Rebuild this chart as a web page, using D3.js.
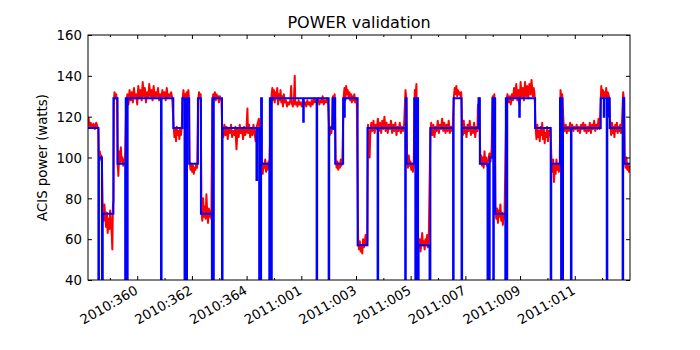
<!DOCTYPE html>
<html>
<head>
<meta charset="utf-8">
<script src="https://cdnjs.cloudflare.com/ajax/libs/d3/7.8.5/d3.min.js"></script>
<style>
body { margin: 0; background: #fff; }
text { font-family: "DejaVu Sans", sans-serif; fill: #000; }
</style>
</head>
<body>
<div id="chart"></div>
<script>
////////////////////////////////////////////////////////////////////////////////////////
// Canvas size and plot box
var svgWidth = 700;
var svgHeight = 350;

var margin = {
    top: 35,
    right: 70,
    bottom: 70,
    left: 88
};

var width = svgWidth - margin.left - margin.right;
var height = svgHeight - margin.top - margin.bottom;

////////////////////////////////////////////////////////////////////////////////////////
// Data (x = day of year, 2011 days continue after 365)
var xDomain = [358.2, 378.02];
var yDomain = [40, 160];
var majorDays = [360, 362, 364, 366, 368, 370, 372, 374, 376];
var minorDays = [359, 361, 363, 365, 367, 369, 371, 373, 375, 377];
var powerTicks = [40, 60, 80, 100, 120, 140, 160];

// measured ACIS power (red)
var telemetry = [
    [358.20,118],[358.22,119.5],[358.25,115],[358.30,117],[358.35,114.5],[358.40,116.5],[358.45,114],[358.50,117],[358.55,115],[358.58,114],
    [358.60,101],[358.63,103],[358.66,99],[358.69,101],[358.71,97],
    [358.74,74],[358.77,69],[358.80,77],[358.83,71],[358.86,66],[358.89,73],[358.92,63],[358.95,70],[358.98,65],[359.01,74],[359.04,68],[359.07,62],[359.09,55],[359.11,76],[359.13,79],
    [359.15,128],[359.17,132],[359.20,129],[359.23,131],[359.26,128],
    [359.29,96],[359.31,91],[359.34,103],[359.37,97],[359.40,105],[359.43,98],[359.46,100],[359.49,96],[359.52,99],[359.55,97],
    [359.60,127],[359.64,131],[359.68,126],[359.72,133],[359.76,128],[359.80,132],[359.84,127],[359.88,134],[359.92,129],[359.96,131],
    [360.00,126],[360.04,135],[360.08,129],[360.12,133],[360.16,128],[360.20,137],[360.24,130],[360.28,134],[360.32,127],[360.36,132],
    [360.40,129],[360.44,136],[360.48,130],[360.52,133],[360.56,128],[360.60,135],[360.64,129],[360.68,132],[360.72,130],[360.76,134],
    [360.80,128],[360.84,131],[360.88,129],[360.92,133],[360.96,130],[361.00,132],[361.04,128],[361.08,134],[361.12,129],[361.16,131],
    [361.20,130],[361.24,132],[361.28,129],
    [361.33,116],[361.36,110],[361.39,114],[361.42,108],[361.45,115],[361.48,111],[361.51,113],[361.54,109],[361.57,114],[361.60,111],[361.63,115],
    [361.66,128],[361.69,133],[361.72,129],[361.75,131],[361.78,127],[361.81,132],[361.84,128],[361.87,133],[361.89,129],
    [361.92,98],[361.95,94],[361.98,97],[362.01,93],[362.04,96],[362.07,92],[362.10,95],[362.13,94],[362.16,97],[362.19,95],
    [362.23,128],[362.26,132],[362.29,129],[362.32,131],
    [362.35,74],[362.38,69],[362.41,80],[362.44,71],[362.47,76],[362.50,70],[362.53,82],[362.56,73],[362.59,68],[362.62,75],[362.65,71],[362.68,74],[362.71,70],
    [362.75,127],[362.78,131],[362.81,129],[362.84,132],[362.87,128],[362.90,131],[362.93,129],[362.96,130],[362.99,127],[363.02,130],[363.05,129],[363.08,128],
    [363.11,114],[363.15,110],[363.19,116],[363.23,111],[363.27,115],[363.31,109],[363.35,114],[363.39,112],[363.43,116],[363.47,110],
    [363.51,113],[363.55,111],[363.59,115],[363.63,104],[363.67,114],[363.71,110],[363.75,116],[363.79,112],[363.83,114],[363.87,109],
    [363.91,115],[363.95,111],[363.99,113],[364.03,124],[364.05,112],[364.09,116],[364.13,110],[364.17,114],[364.21,111],[364.25,116],
    [364.29,112],[364.33,108],[364.37,115],[364.41,117],[364.45,119],
    [364.50,100],[364.53,94],[364.56,98],[364.59,92],[364.62,97],[364.65,95],[364.68,99],[364.71,93],[364.74,97],[364.77,94],[364.80,98],[364.83,96],
    [364.91,130],[364.94,134],[364.97,128],[365.00,133],[365.03,127],[365.06,132],[365.09,129],[365.12,134],[365.15,126],[365.18,131],
    [365.21,128],[365.24,133],[365.27,127],[365.30,130],[365.33,125],[365.36,131],[365.40,127],[365.44,128],[365.48,125],[365.52,127],
    [365.56,126],[365.60,128],[365.63,135],[365.65,127],[365.69,125],[365.73,128],[365.76,140],[365.78,126],[365.82,127],[365.86,125],
    [365.90,128],[365.94,126],[365.98,127],[366.02,125],[366.06,128],[366.10,126],[366.14,127],[366.18,125],[366.22,128],[366.26,126],
    [366.30,127],[366.34,125],[366.38,128],[366.42,126],[366.46,129],[366.50,127],[366.54,128],
    [366.58,127],[366.62,129],[366.66,126],[366.70,128],[366.74,127],[366.78,130],[366.82,126],[366.86,128],[366.90,127],[366.94,129],[366.98,126],
    [367.01,117],[367.04,111],[367.07,115],[367.10,112],[367.13,116],
    [367.16,130],[367.19,127],[367.22,131],
    [367.26,99],[367.29,95],[367.32,98],[367.35,94],[367.38,97],[367.41,95],[367.44,99],[367.47,96],[367.50,98],
    [367.55,130],[367.58,134],[367.61,128],[367.64,135],[367.67,131],[367.70,133],[367.73,129],[367.76,132],[367.79,128],[367.82,131],
    [367.85,127],[367.88,130],[367.91,128],[367.94,131],[367.97,127],[368.00,129],[368.03,126],
    [368.08,58],[368.11,55],[368.14,59],[368.17,54],[368.20,57],[368.23,53],[368.26,60],[368.29,56],[368.32,58],[368.35,62],[368.38,57],[368.41,59],
    [368.44,116],[368.47,112],[368.50,100],[368.52,111],[368.56,117],[368.60,113],[368.64,118],[368.68,112],[368.72,116],[368.76,114],
    [368.80,119],[368.84,113],[368.88,117],[368.92,112],[368.96,118],[369.00,114],[369.04,120],[369.08,113],[369.12,117],[369.16,112],
    [369.20,116],[369.24,114],[369.28,118],[369.32,112],[369.36,116],[369.40,113],[369.44,117],[369.48,111],[369.52,115],[369.56,113],
    [369.60,117],[369.64,112],[369.68,115],[369.72,113],[369.76,116],
    [369.81,133],[369.84,129],
    [369.87,99],[369.90,95],[369.93,101],[369.96,96],[369.99,98],[370.02,94],[370.05,97],[370.08,93],[370.11,96],
    [370.15,133],[370.18,130],[370.21,136],
    [370.27,61],[370.30,56],[370.33,60],[370.36,54],[370.39,58],[370.42,63],[370.45,57],[370.48,59],[370.51,55],[370.54,60],
    [370.57,57],[370.60,62],[370.63,56],[370.66,59],
    [370.72,112],[370.75,117],[370.79,111],[370.83,116],[370.87,110],[370.91,115],[370.95,113],[370.99,118],[371.03,112],[371.07,116],
    [371.11,114],[371.15,119],[371.19,113],[371.23,117],[371.27,112],[371.31,116],[371.35,113],[371.39,118],[371.43,112],[371.47,115],
    [371.51,113],[371.54,116],
    [371.58,130],[371.61,134],[371.64,131],[371.67,135],[371.70,130],[371.73,133],[371.76,131],[371.79,132],[371.82,130],[371.85,132],
    [371.88,116],[371.91,111],[371.94,118],[371.97,112],[372.00,115],[372.04,110],[372.08,116],[372.12,113],[372.16,118],[372.20,111],
    [372.24,115],[372.28,112],[372.32,117],[372.36,110],[372.40,115],[372.44,113],[372.46,126],[372.47,118],
    [372.50,129],
    [372.55,97],[372.58,101],[372.61,96],[372.64,100],[372.67,95],[372.70,103],[372.73,97],[372.76,100],[372.79,96],
    [372.84,99],[372.88,102],[372.92,98],[372.96,104],[373.00,130],[373.03,128],[373.06,131],
    [373.10,76],[373.13,70],[373.16,75],[373.19,68],[373.22,74],[373.25,71],[373.28,77],[373.31,69],[373.34,73],[373.37,67],[373.40,72],[373.43,70],
    [373.50,128],[373.54,131],[373.58,127],[373.62,130],[373.66,126],[373.70,131],[373.74,128],[373.78,134],[373.82,129],[373.86,136],
    [373.90,128],[373.94,133],[373.98,126],[374.02,137],[374.06,130],[374.10,134],[374.14,128],[374.18,137],[374.22,130],[374.26,135],
    [374.30,129],[374.34,136],[374.38,131],[374.42,138],[374.46,130],[374.50,134],[374.53,131],
    [374.57,114],[374.60,109],[374.63,116],[374.66,110],[374.69,113],[374.72,108],[374.75,115],[374.78,111],[374.81,117],[374.84,109],
    [374.87,114],[374.90,107],[374.93,112],[374.96,110],[374.99,115],[375.02,108],[375.05,113],[375.08,111],[375.11,114],
    [375.15,98],[375.18,93],[375.21,99],[375.24,88],[375.27,96],[375.30,92],[375.33,99],[375.36,94],[375.39,97],[375.42,93],[375.45,96],
    [375.48,133],[375.51,128],[375.54,131],
    [375.59,117],[375.63,113],[375.67,116],[375.71,112],[375.75,115],[375.79,113],[375.83,117],[375.87,114],[375.91,116],[375.95,113],
    [375.99,115],[376.03,114],[376.07,116],[376.11,113],[376.15,115],[376.19,112],[376.23,116],[376.27,114],[376.31,117],[376.35,113],
    [376.39,116],[376.43,112],[376.47,115],[376.51,113],[376.55,117],[376.59,112],[376.63,116],[376.67,114],[376.71,118],[376.75,113],
    [376.79,116],[376.83,114],[376.87,119],[376.91,114],
    [376.97,135],[377.00,130],[377.03,133],[377.06,129],[377.09,132],[377.12,130],[377.15,134],[377.18,129],[377.21,132],[377.25,130],
    [377.30,116],[377.33,111],[377.36,117],[377.39,112],[377.42,115],[377.45,110],[377.48,116],[377.51,113],[377.54,117],[377.57,112],
    [377.60,115],[377.63,113],[377.66,116],[377.69,112],[377.72,115],
    [377.77,132],[377.80,128],
    [377.83,99],[377.86,95],[377.89,100],[377.92,94],[377.95,97],[377.98,93],[378.01,96]
];

// model prediction (blue), stepwise; 0 = off the bottom of the plot
var model = [
    [358.20,114.5],
    [358.58,0],[358.60,100],
    [358.71,0],[358.74,72.5],
    [359.13,129],
    [359.28,97],
    [359.56,0],[359.58,129],[359.62,0],[359.65,129],
    [360.87,0],[360.89,129],
    [361.32,114.5],
    [361.65,129],[361.73,0],[361.75,129],[361.80,0],[361.82,129],
    [361.90,97],
    [362.22,129],
    [362.33,72.5],
    [362.73,0],[362.75,129],[362.78,0],[362.80,129],
    [363.10,0],[363.12,114.5],
    [364.36,89],[364.38,114.5],
    [364.46,0],[364.48,114.5],[364.51,0],[364.53,129],
    [364.56,97],
    [364.83,0],[364.85,129],[364.90,0],[364.92,129],
    [366.07,117.5],[366.09,129],
    [366.56,0],[366.58,129],
    [367.00,0],[367.02,114.5],
    [367.14,129],[367.17,114],[367.19,129],
    [367.24,97],
    [367.53,129],[367.57,120],[367.59,129],
    [368.06,57],
    [368.42,114.5],
    [368.79,0],[368.81,114.5],
    [369.80,0],[369.82,129],[369.85,97],
    [370.13,129],[370.17,0],[370.19,129],[370.22,0],[370.24,129],[370.27,0],[370.29,57],
    [370.69,0],[370.72,114.5],
    [371.55,0],[371.57,129],
    [371.86,0],[371.88,114.5],
    [372.48,129],
    [372.53,97],
    [372.81,0],[372.83,97],[372.87,0],[372.89,100],
    [372.99,129],[373.02,0],[373.04,129],
    [373.09,72.5],
    [373.46,0],[373.48,129],[373.51,0],[373.53,129],
    [373.97,120],[373.99,129],
    [374.55,114.5],
    [375.12,0],[375.14,97],
    [375.46,129],[375.50,0],[375.52,129],[375.55,0],[375.57,114.5],
    [375.86,0],[375.88,114.5],
    [376.95,129],
    [377.06,120],[377.08,129],
    [377.17,0],[377.19,129],
    [377.23,120],[377.25,129],
    [377.28,114.5],
    [377.75,0],[377.77,129],
    [377.81,97],
    [378.02,97]
];

////////////////////////////////////////////////////////////////////////////////////////
// Canvas
var svg = d3.select("#chart").append("svg").attr("width", svgWidth).attr("height", svgHeight);

var chartGroup = svg.append("g").attr("transform", `translate(${margin.left}, ${margin.top})`);

// Scales
var x = d3.scaleLinear().domain(xDomain).range([0, width]);
var y = d3.scaleLinear().domain(yDomain).range([height, 0]);

// day number -> "YYYY:DDD"
function dayLabel(d) {
    if (d <= 365) return "2010:" + d;
    return "2011:" + String(d - 365).padStart(3, "0");
}

chartGroup.append("clipPath").attr("id", "plotClip")
    .append("rect").attr("width", width).attr("height", height);

////////////////////////////////////////////////////////////////////////////////////////
// Lines
var redLine = d3.line()
    .x(function(d){ return x(d[0]); })
    .y(function(d){ return y(d[1]); });

var blueLine = d3.line()
    .curve(d3.curveStepAfter)
    .x(function(d){ return x(d[0]); })
    .y(function(d){ return y(d[1]); });

var lines = chartGroup.append("g").attr("clip-path", "url(#plotClip)");

lines.append("path")
    .datum(telemetry)
    .attr("fill", "none")
    .attr("stroke", "#ff0000")
    .attr("stroke-width", 2)
    .attr("stroke-linejoin", "round")
    .attr("d", redLine);

lines.append("path")
    .datum(model)
    .attr("fill", "none")
    .attr("stroke", "#0000ff")
    .attr("stroke-width", 2)
    .attr("d", blueLine);

////////////////////////////////////////////////////////////////////////////////////////
// Axes (ticks point inward on all four sides)
var xAxis = chartGroup.append("g").attr("transform", "translate(0," + height + ")")
    .call(d3.axisBottom(x).tickValues(majorDays).tickSize(-4).tickSizeOuter(0).tickFormat(dayLabel));
chartGroup.append("g").attr("transform", "translate(0," + height + ")")
    .call(d3.axisBottom(x).tickValues(minorDays).tickSize(-2).tickSizeOuter(0).tickFormat(""));
chartGroup.append("g")
    .call(d3.axisTop(x).tickValues(majorDays).tickSize(-4).tickSizeOuter(0).tickFormat(""));
chartGroup.append("g")
    .call(d3.axisTop(x).tickValues(minorDays).tickSize(-2).tickSizeOuter(0).tickFormat(""));

var yAxis = chartGroup.append("g")
    .call(d3.axisLeft(y).tickValues(powerTicks).tickSize(-4).tickSizeOuter(0).tickPadding(6));
chartGroup.append("g").attr("transform", "translate(" + width + ",0)")
    .call(d3.axisRight(y).tickValues(powerTicks).tickSize(-4).tickSizeOuter(0).tickFormat(""));

chartGroup.selectAll(".domain").remove();
chartGroup.selectAll(".tick line").attr("stroke", "#000").attr("stroke-width", 1);

// rotated date labels
xAxis.selectAll(".tick text")
    .attr("y", null).attr("dy", null)
    .attr("transform", "translate(1,13) rotate(-30)")
    .style("text-anchor", "end")
    .style("font-size", "13.3px");

yAxis.selectAll(".tick text")
    .style("font-size", "13.3px")
    .attr("dy", "0.36em");

// frame
chartGroup.append("rect")
    .attr("width", width).attr("height", height)
    .attr("fill", "none").attr("stroke", "#000").attr("stroke-width", 1);

////////////////////////////////////////////////////////////////////////////////////////
// Labels
svg.append("text")
    .attr("x", margin.left + width / 2)
    .attr("y", 28)
    .style("text-anchor", "middle")
    .style("font-size", "16px")
    .text("POWER validation");

svg.append("text")
    .attr("transform", "translate(47," + (margin.top + height / 2) + ") rotate(-90)")
    .style("text-anchor", "middle")
    .style("font-size", "13.3px")
    .text("ACIS power (watts)");
</script>
</body>
</html>
